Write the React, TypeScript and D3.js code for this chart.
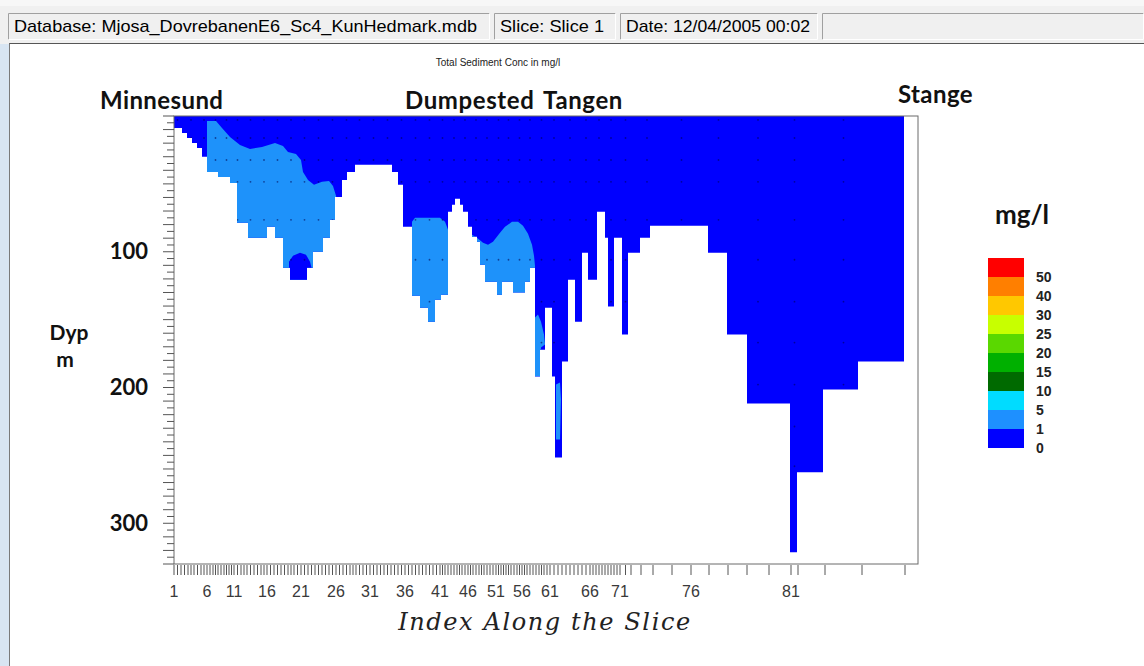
import React from 'react';
import * as d3 from 'd3';

// ---------- data ----------
// distance (km along slice) of each station index 1..85
const indexKm = [
  0.0, 0.7, 1.4, 2.0, 2.7, 3.3, 3.9, 4.4, 5.0, 5.5,
  6.0, 6.7, 7.3, 8.0, 8.7, 9.3, 10.0, 10.7, 11.4, 12.0,
  12.7, 13.4, 14.1, 14.8, 15.5, 16.2, 16.9, 17.6, 18.2, 18.9,
  19.6, 20.3, 21.0, 21.7, 22.4, 23.1, 23.8, 24.5, 25.2, 25.9,
  26.6, 27.1, 27.7, 28.3, 28.8, 29.4, 29.9, 30.5, 31.0, 31.6,
  32.2, 32.7, 33.2, 33.7, 34.3, 34.8, 35.3, 35.9, 36.5, 37.0,
  37.6, 38.4, 39.2, 40.0, 40.8, 41.6, 42.2, 42.8, 43.4, 44.0,
  44.6, 45.7, 46.7, 47.9, 49.8, 51.7, 53.5, 55.4, 57.3, 59.5,
  61.7, 62.4, 65.1, 68.8, 73.1,
];
const indexLabels = [1, 6, 11, 16, 21, 26, 31, 36, 41, 46, 51, 56, 61, 66, 71, 76, 81];

// bottom profile: step edges (km) and water depth (m) of each step
const bottomEdgesKm = [
  0, 0.8, 1.3, 1.8, 2.3, 2.8, 3.3, 4.4, 5.6, 6.3,
  7.4, 9.3, 10.1, 10.9, 11.6, 13.3, 13.9, 14.9, 15.6, 16.1,
  16.8, 17.3, 18.1, 21.8, 22.4, 22.9, 23.8, 24.6, 25.4, 26.1,
  26.7, 27.4, 27.8, 28.1, 28.6, 28.9, 29.4, 29.8, 30.3, 30.6,
  31.1, 32.3, 32.8, 33.9, 35.1, 35.6, 36.1, 36.6, 37.1, 37.8,
  38.1, 38.8, 39.4, 40.1, 40.8, 41.4, 42.3, 43.1, 43.4, 44.0,
  44.8, 45.4, 46.6, 47.6, 53.4, 55.3, 57.3, 61.6, 62.3, 64.9,
  68.4, 73.0,
];
const bottomDepthM = [
  8.8, 12.5, 16.2, 19.9, 23.5, 30.1, 41.2, 44.9, 49.3, 78.7,
  89.7, 81.6, 89.7, 111.8, 120.6, 111.8, 100, 89.7, 76.5, 59.6,
  47.1, 41.2, 36.0, 41.2, 50.7, 81.6, 132.4, 141.2, 151.5, 135.3,
  131.6, 70.6, 65.4, 61.0, 65.4, 70.6, 81.6, 89.0, 92.6, 109.6,
  122.1, 131.6, 122.1, 130.1, 122.1, 111.8, 191.9, 172.1, 141.2, 191.9,
  251.5, 180.9, 120.6, 151.5, 100.7, 120.6, 70.6, 89.7, 140.4, 89.7,
  161.0, 100.7, 89.7, 80.9, 100.7, 161.0, 211.8, 321.3, 262.5, 201.5,
  180.9,
];

// zones of 1-5 mg/l (km, m)
const zoneMinnesund: [number, number][] = [
  [3.3, 3.7], [4.2, 3.7], [4.8, 8.8], [5.6, 15.4], [6.6, 21.3], [7.6, 24.3],
  [8.8, 22.8], [10.1, 19.9], [10.9, 22.1], [11.4, 26.5], [12.2, 27.9],
  [12.7, 32.4], [12.9, 41.2], [13.4, 47.1], [14.0, 50.7], [14.8, 48.5],
  [15.5, 47.8], [15.9, 51.5], [16.2, 58.8], [16.4, 69.1], [16.4, 135], [3.3, 135],
];
const zoneDumpested: [number, number][] = [
  [23.8, 77.9], [24.1, 75], [26.6, 75], [27.1, 77.9], [27.4, 83.8], [27.4, 157], [23.8, 157],
];
const zoneTangen: [number, number][] = [
  [29.4, 91.2], [29.8, 87.5], [30.3, 89.7], [30.9, 93.4], [31.4, 94.9], [31.9, 92.6],
  [32.6, 86], [33.1, 81.6], [33.8, 77.9], [34.4, 77.9], [34.9, 80.9], [35.4, 86.8],
  [35.8, 94.9], [36.0, 103], [36.1, 110.3], [36.1, 135.3], [29.4, 135.3],
];
const zoneDeep1: [number, number][] = [
  [36.1, 148.5], [36.4, 146.3], [36.7, 151.5], [37.0, 161], [37.1, 168.4],
  [36.7, 170.6], [36.6, 191.9], [36.1, 191.9],
];
const zoneDeep2: [number, number][] = [
  [38.2, 197.8], [38.6, 196.3], [38.7, 208.8], [38.6, 238.2], [38.2, 238.2],
];
// pocket of 0-1 mg/l inside the Minnesund zone
const pocketLow: [number, number][] = [
  [11.5, 122], [11.5, 107.4], [11.9, 102.9], [12.6, 100.7], [13.2, 102.2],
  [13.6, 107.4], [13.8, 113.2], [13.8, 122],
];

// output points (depth rows, m)
const dotDepthsM = [2.9, 16.2, 32.4, 48.5, 76.5, 105.9, 136.8, 166.9, 197.8, 228.7, 258];

const depthTicks = [100, 200, 300];

const legendLabels = ['50', '40', '30', '25', '20', '15', '10', '5', '1', '0'];
const legendColors = [
  '#ff0000', '#ff7f00', '#ffc800', '#c8ff00', '#5ad800',
  '#00b000', '#006a00', '#00dcff', '#1e90ff', '#0000ff',
];

const statusTexts = [
  'Database: Mjosa_DovrebanenE6_Sc4_KunHedmark.mdb',
  'Slice: Slice 1',
  'Date: 12/04/2005 00:02',
  '',
];

// ---------- chart ----------
const W = 1144;
const H = 666;
const BOLD = "Lato, 'Open Sans', sans-serif";

export default function App() {
  const x = d3.scaleLinear().domain([0, 74.4]).range([174, 918]);
  const y = d3.scaleLinear().domain([0, 330]).range([116, 564]);
  const line = d3
    .line<[number, number]>()
    .x((d) => x(d[0]))
    .y((d) => y(d[1]));

  // water polygon
  const water: [number, number][] = [[bottomEdgesKm[0], 0]];
  bottomDepthM.forEach((dep, i) => {
    water.push([bottomEdgesKm[i], dep]);
    water.push([bottomEdgesKm[i + 1], dep]);
  });
  water.push([bottomEdgesKm[bottomEdgesKm.length - 1], 0]);
  const waterPath = line(water) + 'Z';

  // ticks on x axis: each index + mid-cell ticks in the dense part
  const xTicks: number[] = [];
  indexKm.forEach((k, i) => {
    xTicks.push(k);
    if (i < 71 && i + 1 < indexKm.length) xTicks.push((k + indexKm[i + 1]) / 2);
  });

  // y ticks
  const yTicks = d3.range(0, 331, 5);

  // dots at centre of odd cells
  const dotKm: number[] = [];
  for (let i = 0; i + 1 < indexKm.length; i += 2) dotKm.push((indexKm[i] + indexKm[i + 1]) / 2);

  const panels = [
    [8, 490],
    [494, 616],
    [620, 818],
    [822, 1144],
  ];

  const legendY = d3.scaleBand<string>().domain(legendLabels).range([258, 448]).padding(0);

  return (
    <svg
      width={W}
      height={H}
      style={{ position: 'absolute', left: 0, top: 0, background: '#fff' }}
      xmlns="http://www.w3.org/2000/svg"
    >
      <defs>
        <clipPath id="waterClip">
          <path d={waterPath} />
        </clipPath>
      </defs>

      {/* window chrome */}
      <rect x={0} y={0} width={W} height={44} fill="#f0f0f0" />
      <rect x={0} y={0} width={W} height={6} fill="#f7f7f7" />
      {panels.map(([a, b], i) => (
        <g key={i}>
          <rect x={a} y={13} width={b - a} height={27} fill="#f0f0f0" />
          <path d={`M${a + 0.5},${39.5}V${13.5}H${b - 0.5}`} stroke="#a0a0a0" fill="none" />
          <path d={`M${a + 0.5},${39.5}H${b - 0.5}V${13.5}`} stroke="#ffffff" fill="none" />
          {statusTexts[i] && (
            <text
              x={a + 6}
              y={32}
              fontFamily="'Liberation Sans Narrow', 'Liberation Sans', Arial, sans-serif"
              fontSize={17}
              fill="#000"
              textLength={i === 0 ? 463 : i === 1 ? 104 : 184}
              lengthAdjust="spacingAndGlyphs"
            >
              {statusTexts[i]}
            </text>
          )}
        </g>
      ))}
      <rect x={0} y={44} width={9} height={H - 44} fill="#d8e5f2" />
      <rect x={10} y={44} width={W - 10} height={H - 44} fill="#ffffff" />
      <line x1={9.5} y1={43} x2={9.5} y2={H} stroke="#7a7a7a" />
      <line x1={9.5} y1={43.5} x2={W} y2={43.5} stroke="#555" />

      {/* title */}
      <text x={498} y={66} textAnchor="middle" fontFamily="'Liberation Sans', Arial, sans-serif" fontSize={10} fill="#222">
        Total Sediment Conc in mg/l
      </text>

      {/* place names */}
      <text x={100} y={109} fontFamily={BOLD} fontWeight={700} fontSize={24} letterSpacing={0.4} fill="#111">Minnesund</text>
      <text x={405} y={109} fontFamily={BOLD} fontWeight={700} fontSize={24} letterSpacing={0.6} wordSpacing={3} fill="#111">Dumpested Tangen</text>
      <text x={898} y={103} fontFamily={BOLD} fontWeight={700} fontSize={24} letterSpacing={0.4} fill="#111">Stange</text>

      {/* water body */}
      <path d={waterPath} fill="#0000ff" />
      <g clipPath="url(#waterClip)">
        {[zoneMinnesund, zoneDumpested, zoneTangen, zoneDeep1, zoneDeep2].map((z, i) => (
          <path key={i} d={line(z) + 'Z'} fill="#1e92fa" />
        ))}
        <path d={line(pocketLow) + 'Z'} fill="#0000ff" />
        {dotDepthsM.map((dd) =>
          dotKm.map((k) => <circle key={dd + '-' + k} cx={x(k)} cy={y(dd)} r={0.9} fill="#00004a" opacity={0.55} />),
        )}
      </g>

      {/* frame */}
      <rect x={174} y={116} width={744} height={448} fill="none" stroke="#6a6a6a" />

      {/* y axis ticks */}
      {yTicks.map((t) => (
        <line key={t} x1={t % 10 === 0 ? 163 : 167} x2={174} y1={y(t)} y2={y(t)} stroke="#555" />
      ))}
      {depthTicks.map((t) => (
        <text key={t} x={148} y={y(t)} dy="0.35em" textAnchor="end" fontFamily={BOLD} fontWeight={700} fontSize={22} fill="#111">
          {t}
        </text>
      ))}
      <text x={69} y={340} textAnchor="middle" fontFamily={BOLD} fontWeight={700} fontSize={21} fill="#111">Dyp</text>
      <text x={65} y={367} textAnchor="middle" fontFamily={BOLD} fontWeight={700} fontSize={21} fill="#111">m</text>

      {/* x axis ticks */}
      {xTicks.map((k, i) => (
        <line key={i} x1={x(k)} x2={x(k)} y1={565} y2={575} stroke="#555" />
      ))}
      {indexLabels.map((l) => (
        <text key={l} x={x(indexKm[l - 1])} y={597} textAnchor="middle" fontFamily="'Liberation Sans', Arial, sans-serif" fontSize={16} fill="#3a3a3a">
          {l}
        </text>
      ))}
      <text x={545} y={630} textAnchor="middle" fontFamily="'DejaVu Serif', serif" fontStyle="italic" fontSize={24} letterSpacing={1.6} fill="#222">
        Index Along the Slice
      </text>

      {/* legend */}
      <text x={1022} y={224} textAnchor="middle" fontFamily={BOLD} fontWeight={700} fontSize={26} fill="#111">mg/l</text>
      {legendLabels.map((l, i) => (
        <g key={l}>
          <rect x={988} y={legendY(l)} width={36} height={legendY.bandwidth()} fill={legendColors[i]} />
          <text
            x={1036}
            y={(legendY(l) as number) + legendY.bandwidth()}
            dy="0.35em"
            fontFamily="'Liberation Sans Narrow', 'Liberation Sans', sans-serif"
            fontWeight={700}
            fontSize={14}
            fill="#222"
          >
            {l}
          </text>
        </g>
      ))}
    </svg>
  );
}
